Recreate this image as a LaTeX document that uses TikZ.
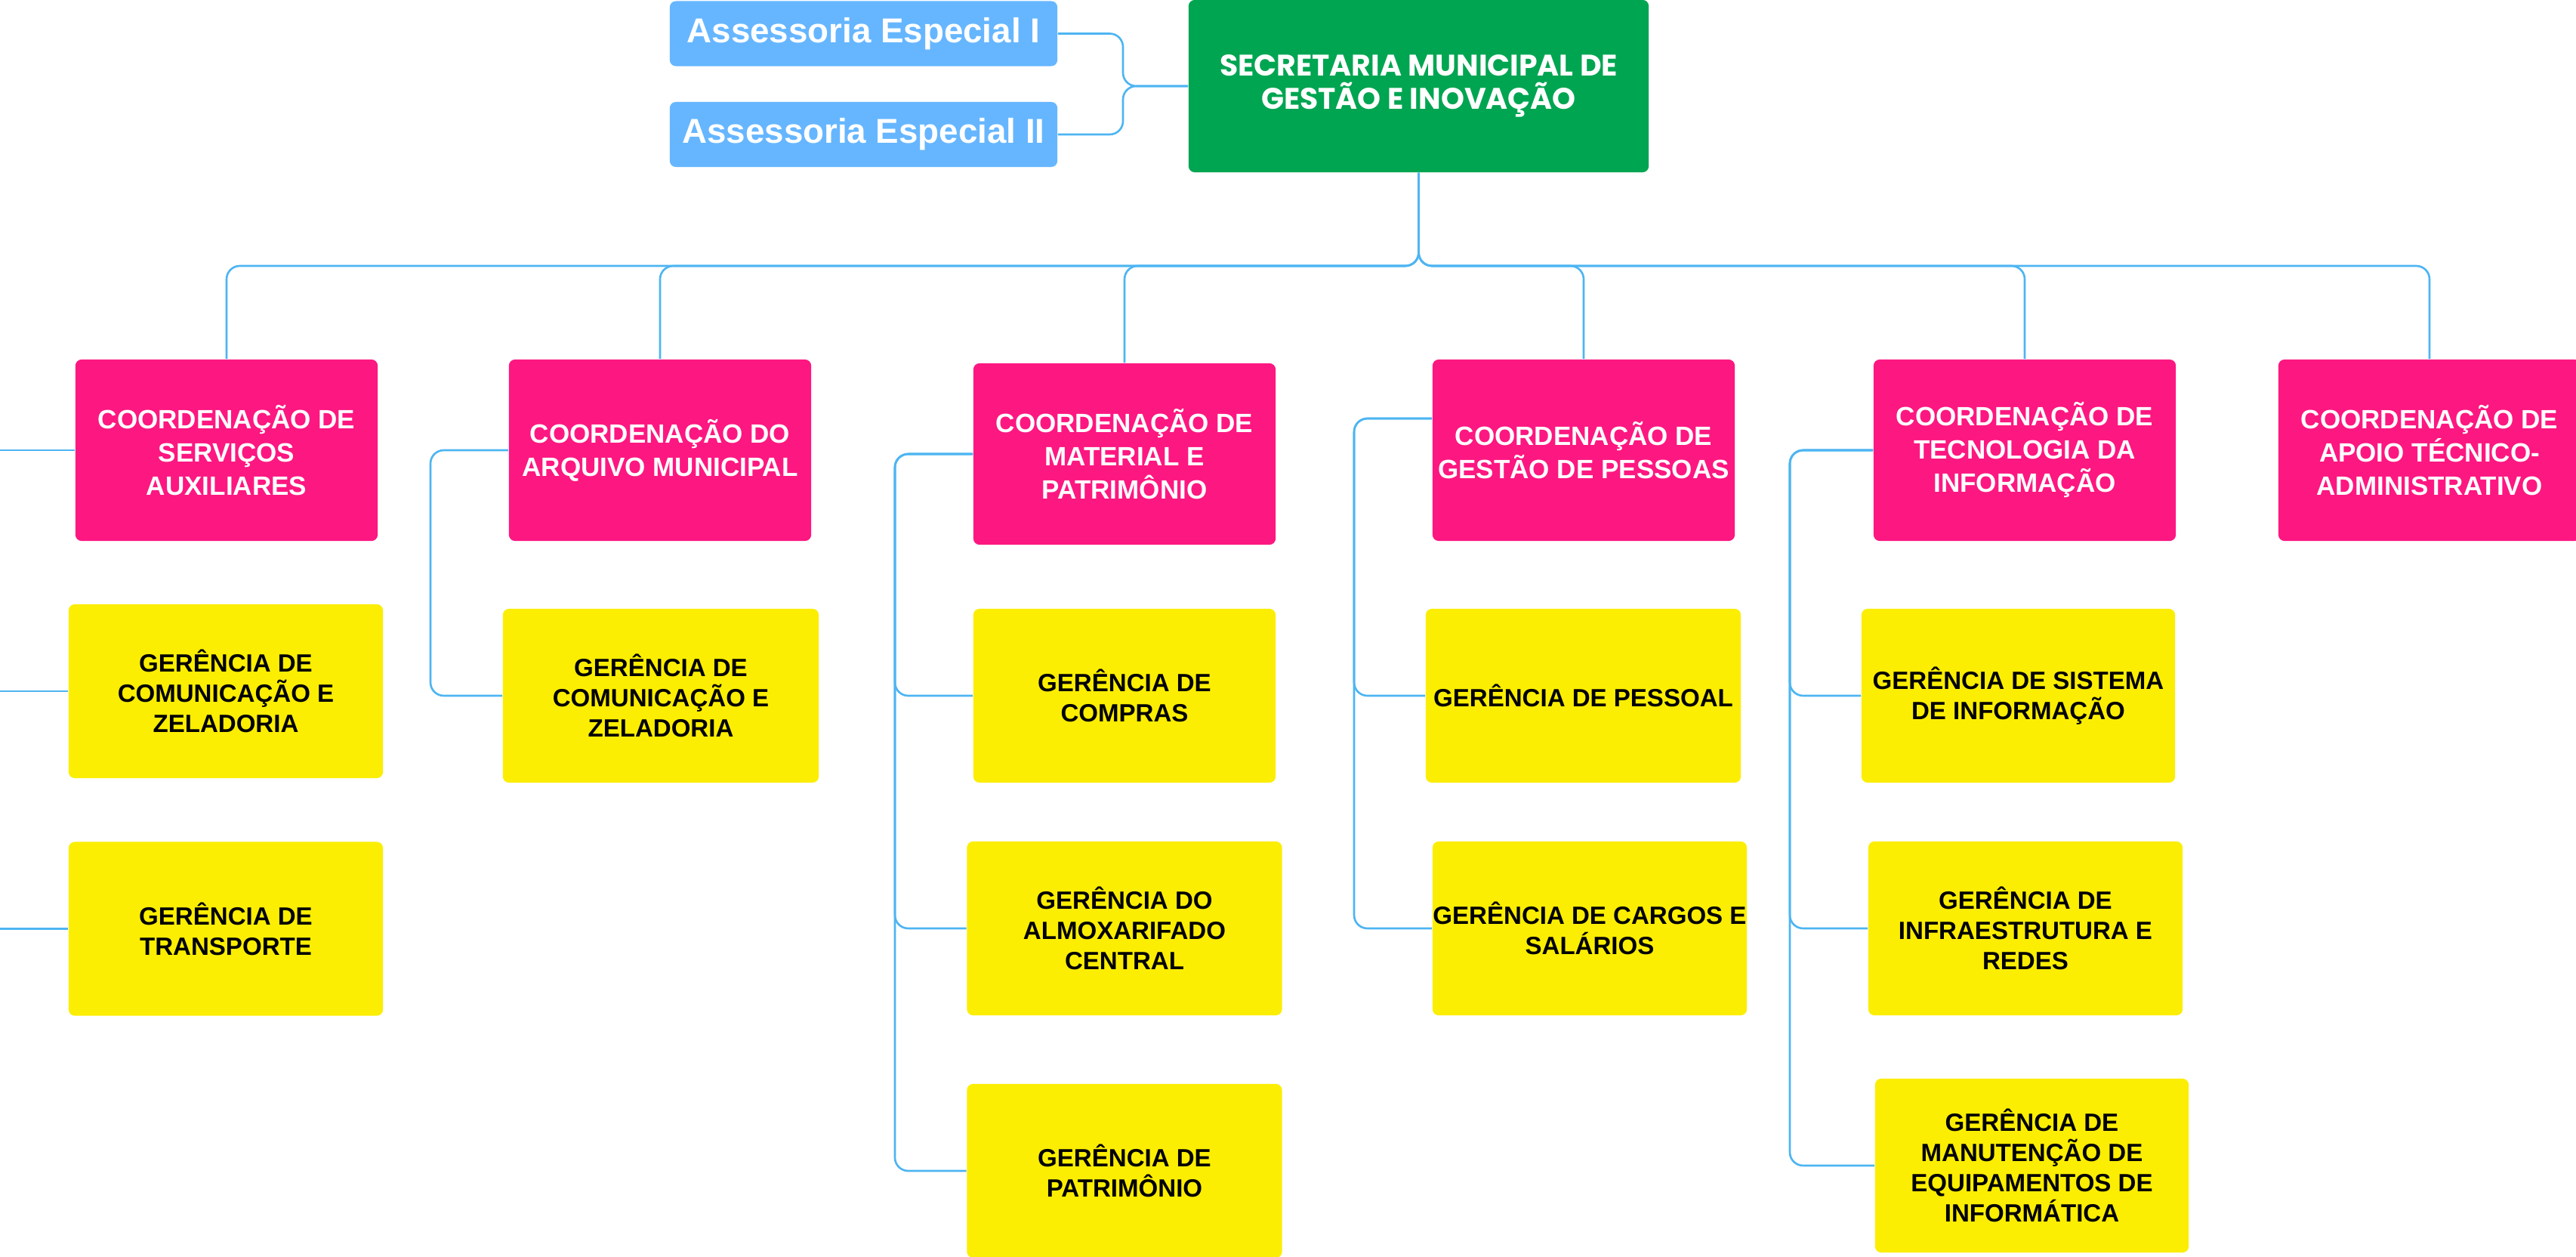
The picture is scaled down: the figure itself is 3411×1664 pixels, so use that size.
\documentclass[tikz,border=0pt]{standalone}
\usepackage{fontspec}
\setmainfont{Liberation Sans}
\newfontfamily\titlefont{Poppins}
\definecolor{greenc}{HTML}{00A551}
\definecolor{pinkc}{HTML}{FD1781}
\definecolor{yellowc}{HTML}{FCEE02}
\definecolor{bluec}{HTML}{66B6FF}
\definecolor{linec}{HTML}{4DB5F2}
\begin{document}
\begin{tikzpicture}[x=0.01cm,y=-0.01cm,
  conn/.style={draw=linec, line width=0.75pt, rounded corners=5pt},
  box/.style={rectangle, rounded corners=2.3pt, inner sep=0pt, align=center},
  secbox/.style={box, fill=greenc, text=white, minimum width=6.09cm, minimum height=2.28cm,
     font=\titlefont\bfseries\fontsize{11.2}{12.6}\selectfont},
  assbox/.style={box, fill=bluec, text=white, minimum width=5.13cm, minimum height=0.86cm,
     font=\bfseries\fontsize{13}{15}\selectfont},
  coordbox/.style={box, fill=pinkc, text=white, minimum width=4cm, minimum height=2.4cm,
     font=\bfseries\fontsize{9.96}{12.5}\selectfont},
  gerbox/.style={box, fill=yellowc, text=black, minimum width=4.16cm, minimum height=2.3cm,
     font=\bfseries\fontsize{9.4}{11.4}\selectfont}]
\fill[white] (0,0) rectangle (3411,1664);
\useasboundingbox (0,0) rectangle (3411,1664);

% top level
\node[secbox] (sec) at (1878.5,114) {SECRETARIA MUNICIPAL DE\\GESTÃO E INOVAÇÃO};
\node[assbox] (a1) at (1143.5,44.5) {Assessoria Especial I};
\node[assbox] (a2) at (1143.5,178) {Assessoria Especial II};
\coordinate (aj) at (1487,114);
\draw[conn] (a1.east) -| (aj) -- (sec.west);
\draw[conn] (a2.east) -| (aj) -- (sec.west);

% coordinations
\node[coordbox] (serv) at (300,596) {COORDENAÇÃO DE\\SERVIÇOS\\AUXILIARES};
\node[coordbox] (arq) at (874,596) {COORDENAÇÃO DO\\ARQUIVO MUNICIPAL};
\node[coordbox] (mat) at (1489,601) {COORDENAÇÃO DE\\MATERIAL E\\PATRIMÔNIO};
\node[coordbox] (pes) at (2097,596) {COORDENAÇÃO DE\\GESTÃO DE PESSOAS};
\node[coordbox] (ti) at (2681,596) {COORDENAÇÃO DE\\TECNOLOGIA DA\\INFORMAÇÃO};
\node[coordbox] (apo) at (3217,596) {COORDENAÇÃO DE\\APOIO TÉCNICO-\\ADMINISTRATIVO};

\coordinate (bus) at (1878.5,352);
\foreach \c in {serv,arq,mat,pes,ti,apo}
  \draw[conn] (sec.south) -- (bus) -| (\c.north);

% managements
\node[gerbox] (g11) at (299,915) {GERÊNCIA DE\\COMUNICAÇÃO E\\ZELADORIA};
\node[gerbox] (g12) at (299,1229.5) {GERÊNCIA DE\\TRANSPORTE};
\node[gerbox, minimum width=4.18cm] (g21) at (875,921) {GERÊNCIA DE\\COMUNICAÇÃO E\\ZELADORIA};
\node[gerbox, minimum width=4cm] (g31) at (1489,921) {GERÊNCIA DE\\COMPRAS};
\node[gerbox, minimum width=4.17cm] (g32) at (1489,1229) {GERÊNCIA DO\\ALMOXARIFADO\\CENTRAL};
\node[gerbox, minimum width=4.17cm] (g33) at (1489,1550) {GERÊNCIA DE\\PATRIMÔNIO};
\node[gerbox, minimum width=4.17cm] (g41) at (2096.5,921) {GERÊNCIA DE PESSOAL};
\node[gerbox] (g42) at (2105,1229) {GERÊNCIA DE CARGOS E\\SALÁRIOS};
\node[gerbox, minimum width=4.15cm] (g51) at (2672.5,921) {GERÊNCIA DE SISTEMA\\DE INFORMAÇÃO};
\node[gerbox] (g52) at (2682,1229) {GERÊNCIA DE\\INFRAESTRUTURA E\\REDES};
\node[gerbox, minimum width=4.15cm] (g53) at (2690.5,1543) {GERÊNCIA DE\\MANUTENÇÃO DE\\EQUIPAMENTOS DE\\INFORMÁTICA};

% left column (parent off page)
\coordinate (l1) at (0,596);
\coordinate (l2) at (0,915);
\coordinate (l3) at (0,1229.5);
\draw[conn] (l1) -- (serv.west);
\draw[conn] (l2) -- (g11.west);
\draw[conn] (l3) -- (g12.west);

% arquivo
\coordinate (arqj) at (570,596);
\draw[conn] (arq.west) -- (arqj) |- (g21.west);

% material
\coordinate (matj) at (1185,601);
\foreach \g in {g31,g32,g33}
  \draw[conn] (mat.west) -- (matj) |- (\g.west);

% pessoas
\coordinate (pesj) at (1793,554);
\foreach \g in {g41,g42}
  \draw[conn] (pesj -| pes.west) -- (pesj) |- (\g.west);

% TI
\coordinate (tij) at (2370,596);
\foreach \g in {g51,g52,g53}
  \draw[conn] (ti.west) -- (tij) |- (\g.west);
\end{tikzpicture}
\end{document}
